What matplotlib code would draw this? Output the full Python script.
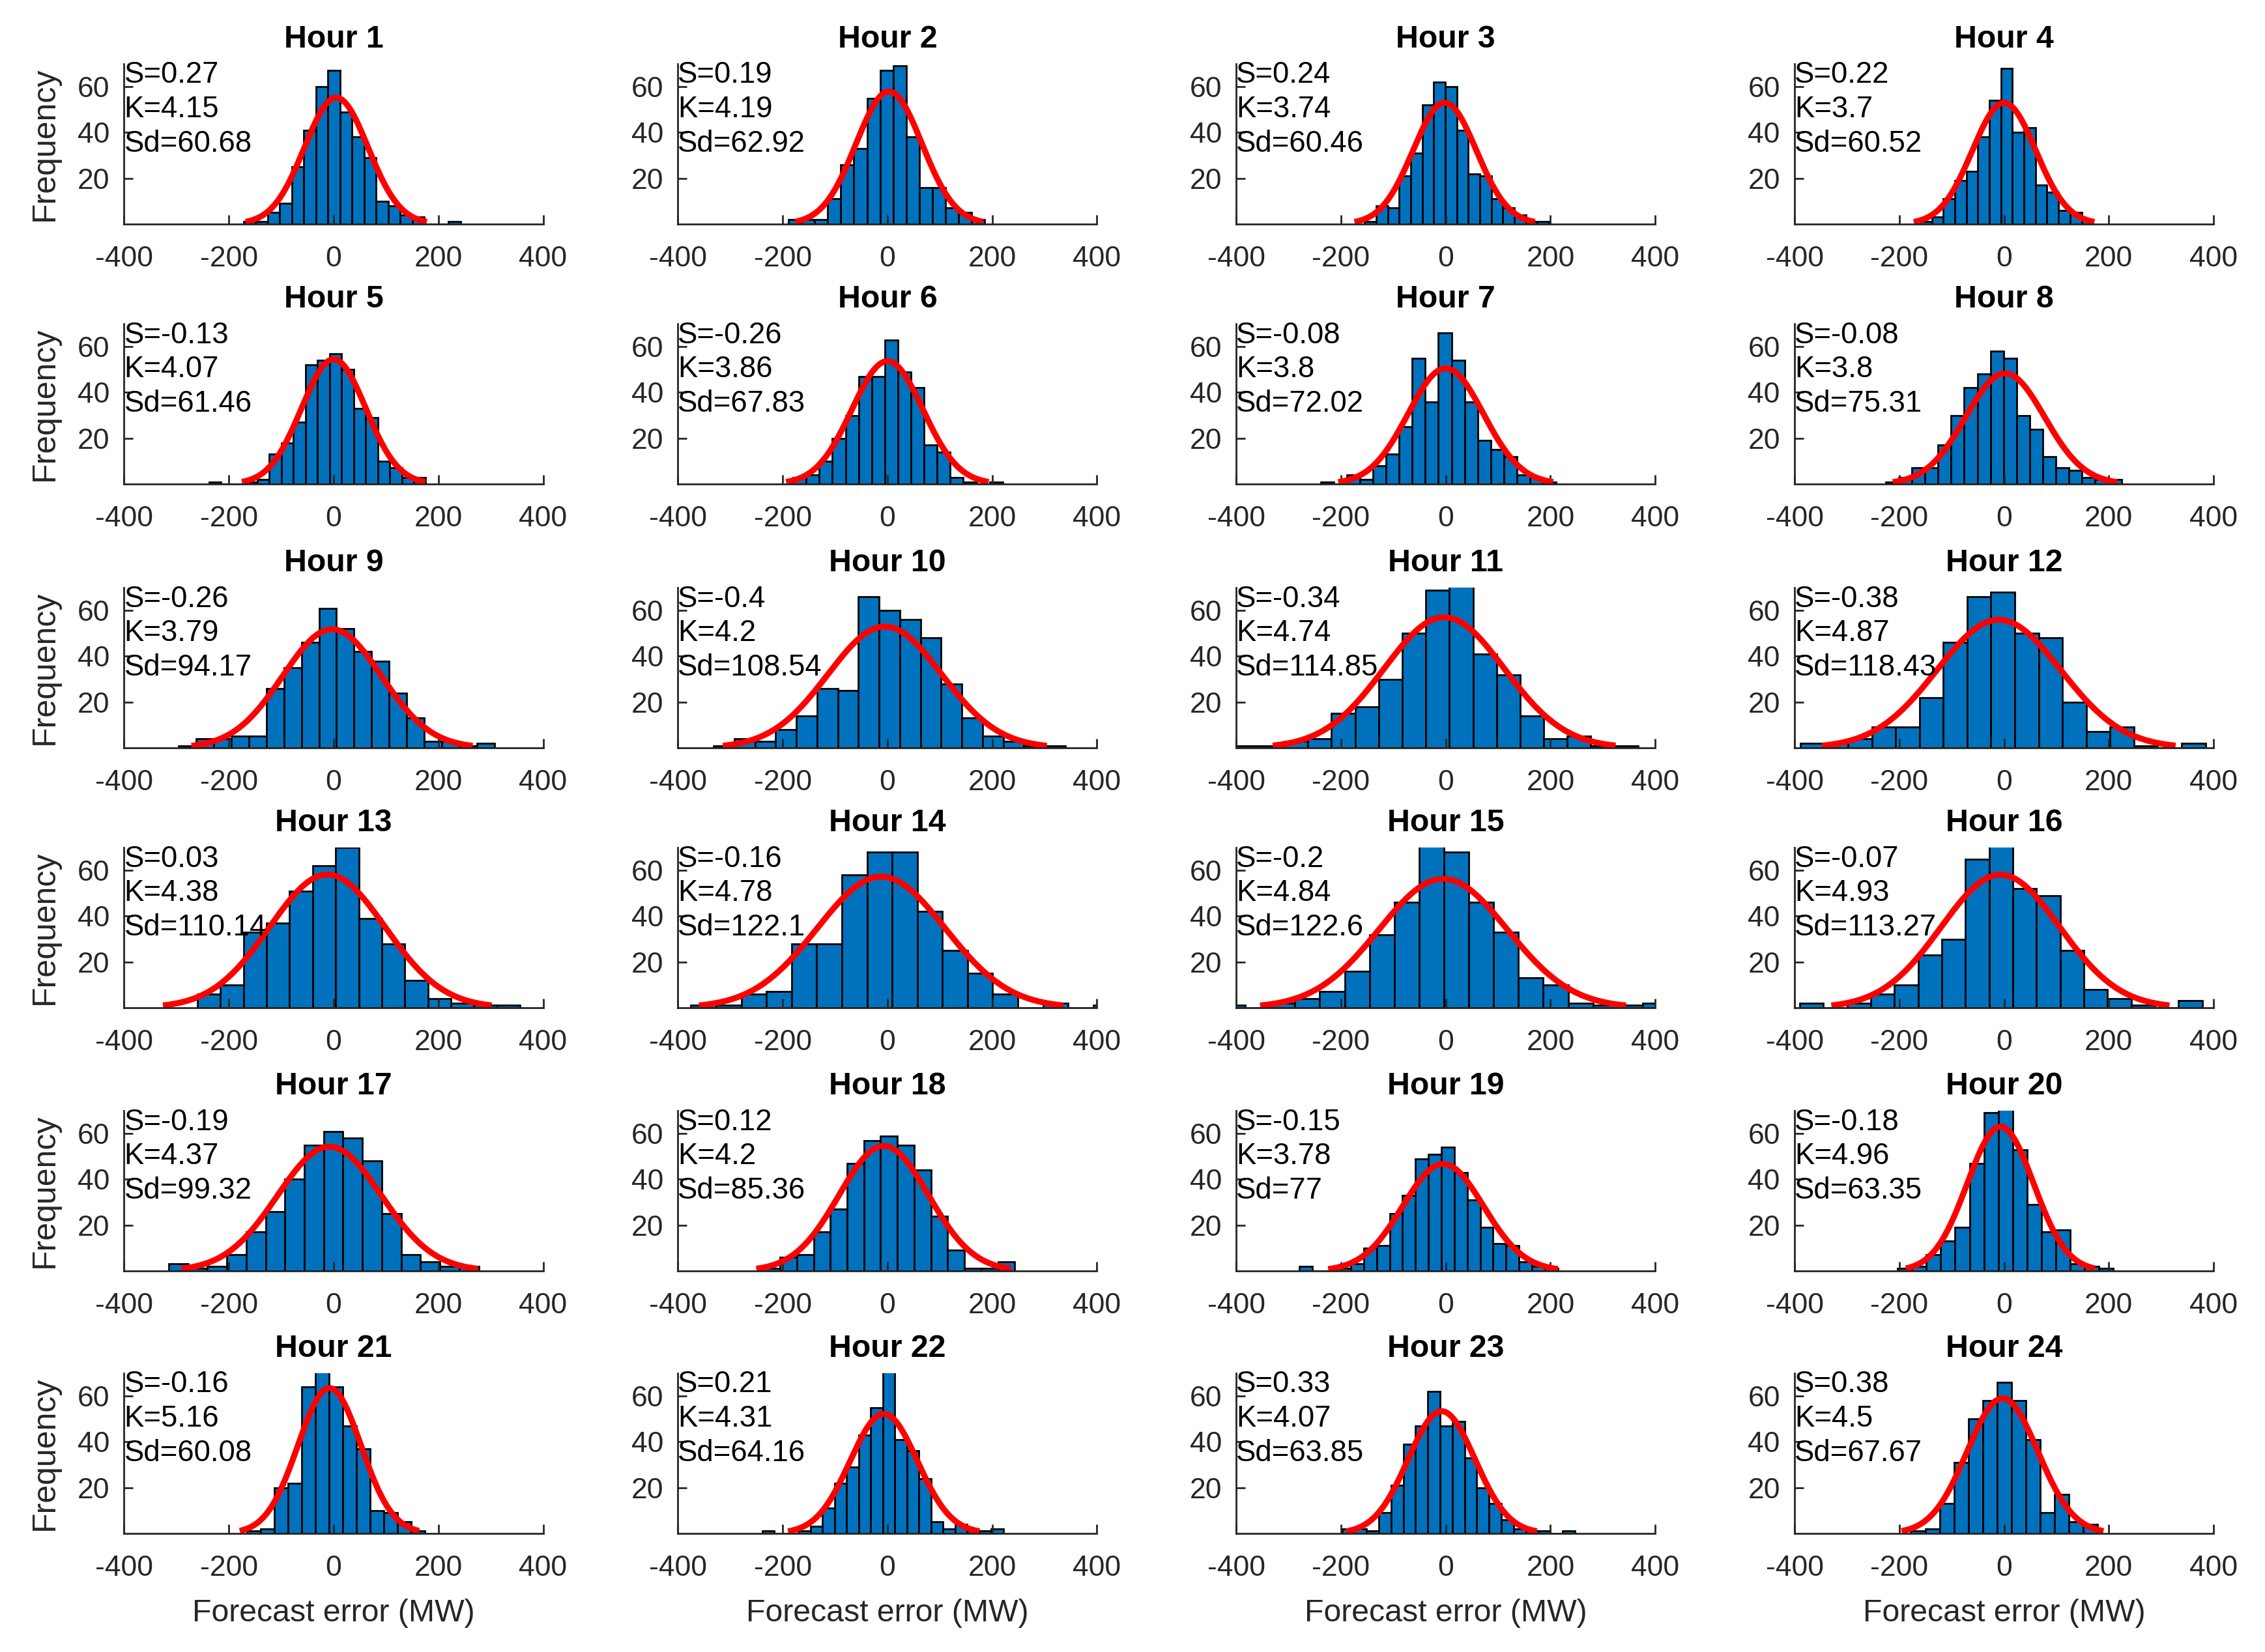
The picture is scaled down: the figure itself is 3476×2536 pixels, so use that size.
import numpy as np
import matplotlib
matplotlib.use('Agg')
import matplotlib.pyplot as plt

plt.rcParams['font.family'] = ['Liberation Sans', 'DejaVu Sans']
plt.rcParams['axes.unicode_minus'] = False

hours = list(range(1, 25))

skewness = [0.27, 0.19, 0.24, 0.22, -0.13, -0.26, -0.08, -0.08,
            -0.26, -0.4, -0.34, -0.38, 0.03, -0.16, -0.2, -0.07,
            -0.19, 0.12, -0.15, -0.18, -0.16, 0.21, 0.33, 0.38]
kurtosis = [4.15, 4.19, 3.74, 3.7, 4.07, 3.86, 3.8, 3.8,
            3.79, 4.2, 4.74, 4.87, 4.38, 4.78, 4.84, 4.93,
            4.37, 4.2, 3.78, 4.96, 5.16, 4.31, 4.07, 4.5]
std_devs = [60.68, 62.92, 60.46, 60.52, 61.46, 67.83, 72.02, 75.31,
            94.17, 108.54, 114.85, 118.43, 110.14, 122.1, 122.6, 113.27,
            99.32, 85.36, 77, 63.35, 60.08, 64.16, 63.85, 67.67]
# centre of the fitted normal curve (read from the peak position)
means = [5, 3, -2, 0, 0, 0, 0, 2, -3, -5, -3, -10,
         -12, -12, -5, -7, -8, -7, -5, -7, -8, -7, -8, -3]

# histogram bins: left edge of the first bin, bin width and counts per bin
bin_starts = [-172, -189, -155, -160, -238, -180, -239, -226,
              -296, -332, -398, -389, -260, -375, -430, -390,
              -315, -237, -280, -203, -166, -239, -198, -178]
bin_widths = [23, 25, 22, 22, 23, 25, 25, 25,
              33.5, 39.5, 45, 45.5, 44, 48, 47.4, 45.2,
              37, 32, 24.7, 27.4, 26.2, 23, 23.4, 27.4]
counts = [
    [1, 1, 5, 9, 25, 41, 60, 67, 49, 38, 29, 10, 8, 4, 3, 0, 0, 1],
    [2, 2, 2, 11, 26, 33, 55, 67, 69, 38, 16, 16, 7, 5, 2],
    [1, 8, 7, 21, 31, 52, 62, 60, 41, 22, 21, 11, 7, 4, 1, 1],
    [1, 3, 11, 19, 23, 38, 54, 68, 40, 42, 17, 14, 6, 5, 2],
    [1, 0, 0, 1, 2, 13, 18, 27, 52, 54, 57, 50, 33, 29, 10, 7, 3, 3],
    [3, 4, 10, 20, 30, 47, 47, 63, 49, 42, 17, 14, 3, 1, 0, 1],
    [1, 0, 4, 2, 8, 13, 25, 55, 36, 66, 54, 36, 19, 15, 12, 4, 3, 1],
    [1, 3, 7, 7, 17, 30, 42, 48, 58, 55, 30, 24, 12, 7, 6, 3, 2, 2],
    [1, 4, 4, 5, 5, 26, 35, 46, 61, 52, 42, 38, 24, 13, 3, 3, 1, 2],
    [1, 4, 3, 8, 14, 26, 25, 66, 60, 56, 48, 28, 13, 5, 3, 1, 1],
    [1, 1, 3, 4, 15, 18, 30, 50, 69, 73, 41, 32, 14, 4, 5, 1, 1],
    [2, 2, 4, 9, 9, 22, 46, 66, 68, 50, 48, 20, 7, 9, 1, 0, 2],
    [6, 10, 33, 37, 51, 62, 70, 39, 28, 12, 4, 2, 1, 1],
    [1, 1, 6, 7, 28, 28, 58, 68, 68, 42, 25, 15, 6, 0, 2, 0, 1],
    [1, 0, 2, 4, 7, 16, 32, 46, 72, 68, 46, 33, 13, 10, 2, 1, 1, 2],
    [2, 0, 2, 6, 10, 23, 30, 65, 72, 52, 49, 25, 8, 4, 1, 0, 3],
    [3, 1, 2, 7, 17, 26, 40, 55, 61, 58, 48, 25, 7, 4, 2, 2],
    [1, 6, 7, 17, 27, 47, 57, 59, 55, 44, 24, 9, 1, 1, 4],
    [2, 0, 0, 1, 3, 10, 11, 25, 33, 49, 51, 54, 43, 31, 19, 12, 11, 4, 2, 1],
    [1, 2, 7, 13, 19, 47, 69, 72, 53, 29, 17, 18, 3, 2, 1],
    [1, 2, 20, 22, 64, 72, 64, 47, 37, 10, 9, 5, 1],
    [1, 0, 0, 1, 3, 11, 22, 29, 43, 55, 72, 41, 36, 24, 5, 2, 4, 1, 1, 2],
    [2, 2, 1, 9, 21, 39, 47, 62, 47, 49, 33, 20, 13, 6, 2, 1, 1, 0, 1],
    [1, 2, 13, 31, 50, 58, 66, 58, 41, 9, 17, 5, 4],
]

n_samples = 365      # days per hour
curve_span = 2.85    # fitted curve drawn over mean +/- span * sd

x_ticks = [-400, -200, 0, 200, 400]
y_ticks = [20, 40, 60]

bar_color = '#0072BD'
axis_color = '#262626'

fig = plt.figure(figsize=(17.38, 12.68), dpi=200)

col_left = [0.0548, 0.2993, 0.5458, 0.7923]
row_bottom = [0.8644, 0.7070, 0.5473, 0.3900, 0.2307, 0.0718]
ax_w, ax_h = 0.185, 0.097

for i, hour in enumerate(hours):
    r, c = divmod(i, 4)
    ax = fig.add_axes([col_left[c], row_bottom[r], ax_w, ax_h])

    cnt = np.array(counts[i])
    bw = bin_widths[i]
    edges = bin_starts[i] + bw * np.arange(len(cnt))
    ax.bar(edges, cnt, width=bw, align='edge', color=bar_color,
           edgecolor='black', linewidth=1.0, zorder=1)

    mu, sd = means[i], std_devs[i]
    x = np.linspace(mu - curve_span * sd, mu + curve_span * sd, 200)
    y = n_samples * bw / (sd * np.sqrt(2 * np.pi)) * np.exp(-0.5 * ((x - mu) / sd) ** 2)
    ax.plot(x, y, color='red', lw=3.3, zorder=2.5, clip_on=False,
            solid_capstyle='butt')

    ax.set_xlim(-400, 400)
    ax.set_ylim(0, 70)
    ax.set_xticks(x_ticks)
    ax.set_yticks(y_ticks)

    for side in ['top', 'right']:
        ax.spines[side].set_visible(False)
    for side in ['left', 'bottom']:
        ax.spines[side].set_color(axis_color)
        ax.spines[side].set_linewidth(1.0)
        ax.spines[side].set_zorder(3)

    ax.tick_params(axis='both', direction='in', length=5, width=1.0,
                   colors=axis_color, labelsize=16)
    ax.tick_params(axis='x', pad=12)
    ax.tick_params(axis='y', pad=8)

    ax.set_title(f'Hour {hour}', fontsize=17.4, fontweight='bold', pad=9)

    ax.text(-400, 65, f'S={skewness[i]:g}', fontsize=16.4, va='center', ha='left', zorder=4)
    ax.text(-400, 50, f'K={kurtosis[i]:g}', fontsize=16.4, va='center', ha='left', zorder=4)
    ax.text(-400, 35, f'Sd={std_devs[i]:g}', fontsize=16.4, va='center', ha='left', zorder=4)

    if c == 0:
        ax.set_ylabel('Frequency', fontsize=18, color=axis_color, va='center')
        ax.yaxis.set_label_coords(-0.189, 0.5)
    if r == 5:
        ax.set_xlabel('Forecast error (MW)', fontsize=17.4, color=axis_color, va='center')
        ax.xaxis.set_label_coords(0.5, -0.5)

fig.savefig('out.png', dpi=200)
